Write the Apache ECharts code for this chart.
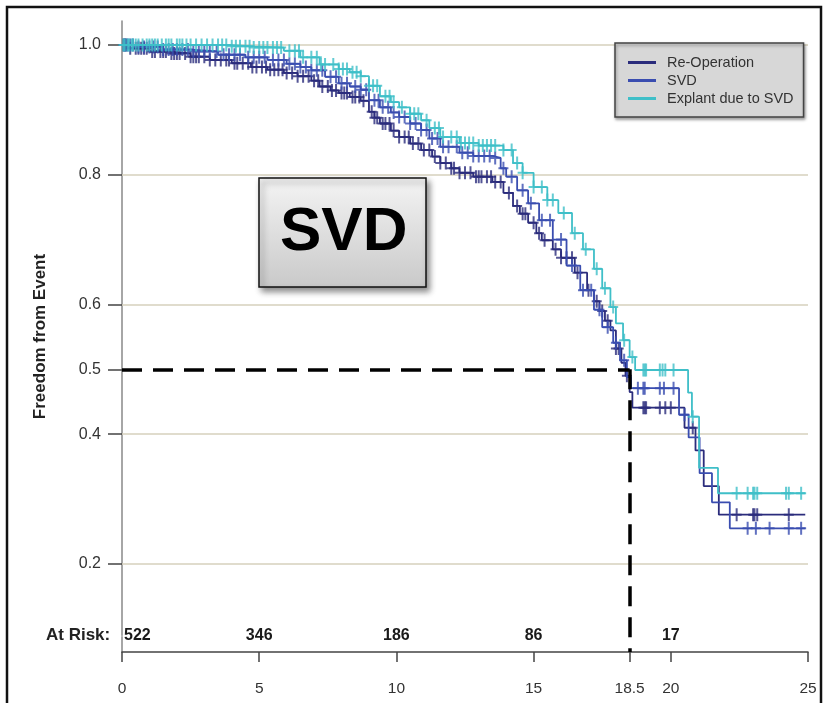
<!DOCTYPE html>
<html><head><meta charset="utf-8">
<script src="https://cdn.jsdelivr.net/npm/echarts@6/dist/echarts.min.js"></script>
<style>html,body{margin:0;padding:0;background:#fff}#chart{width:830px;height:703px}</style>
</head><body><div id="chart"></div>
<script>
// ---------- data ----------
const seriesNames = ['Re-Operation', 'SVD', 'Explant due to SVD'];
const xTickValues = [0, 5, 10, 15, 18.5, 20, 25];
const yTickValues = [0.2, 0.4, 0.5, 0.6, 0.8, 1.0];
const gridLineValues = [0.2, 0.4, 0.6, 0.8, 1.0];
const atRiskTimes = [0, 5, 10, 15, 20];
const atRiskCounts = [522, 346, 186, 86, 17];
const medianTime = 18.5;
const medianValue = 0.5;

// Kaplan-Meier steps [time, survival]
const reopSteps = [[0,1.0],[0.2,0.995],[1.0,0.99],[1.7,0.987],[2.5,0.982],[3.2,0.977],[4.0,0.972],[4.7,0.966],[5.3,0.962],[5.9,0.957],[6.4,0.952],[6.9,0.945],[7.2,0.936],[7.6,0.93],[7.9,0.926],[8.3,0.92],[8.7,0.914],[9.0,0.897],[9.2,0.888],[9.4,0.879],[9.8,0.868],[10.1,0.858],[10.5,0.848],[10.9,0.838],[11.3,0.828],[11.6,0.818],[12.0,0.81],[12.3,0.803],[12.8,0.797],[13.5,0.789],[13.9,0.772],[14.25,0.752],[14.5,0.74],[14.8,0.726],[15.1,0.71],[15.3,0.699],[15.7,0.685],[16.0,0.672],[16.5,0.649],[16.95,0.622],[17.2,0.605],[17.4,0.59],[17.6,0.575],[17.8,0.56],[18.0,0.532],[18.2,0.51],[18.35,0.49],[18.5,0.465],[18.6,0.441],[20.5,0.41],[20.9,0.375],[21.2,0.32],[21.75,0.276],[24.9,0.276]];
const svdSteps = [[0,1.0],[0.5,0.997],[1.5,0.993],[2.5,0.99],[3.5,0.985],[4.5,0.981],[5.3,0.977],[6.0,0.971],[6.5,0.966],[6.9,0.961],[7.4,0.951],[7.9,0.941],[8.3,0.936],[8.7,0.931],[9.0,0.915],[9.4,0.904],[9.8,0.896],[10.1,0.889],[10.5,0.879],[10.9,0.869],[11.2,0.856],[11.6,0.843],[12.3,0.834],[12.8,0.829],[13.5,0.826],[13.8,0.81],[14.0,0.797],[14.4,0.776],[14.8,0.756],[15.2,0.73],[15.7,0.7],[16.2,0.66],[16.7,0.622],[17.2,0.592],[17.5,0.565],[17.9,0.541],[18.15,0.514],[18.4,0.488],[18.55,0.471],[20.3,0.43],[20.65,0.395],[21.05,0.34],[21.5,0.295],[22.15,0.255],[24.9,0.255]];
const explantSteps = [[0,1.0],[3.9,0.998],[4.8,0.996],[5.9,0.991],[6.5,0.981],[7.2,0.97],[7.9,0.963],[8.3,0.958],[8.7,0.952],[9.0,0.937],[9.4,0.921],[9.8,0.912],[10.1,0.904],[10.5,0.894],[10.9,0.884],[11.2,0.872],[11.6,0.858],[12.3,0.849],[13.0,0.845],[13.9,0.838],[14.25,0.818],[14.6,0.803],[15.0,0.781],[15.5,0.761],[15.9,0.741],[16.4,0.71],[16.8,0.685],[17.2,0.655],[17.5,0.625],[17.8,0.596],[18.0,0.571],[18.26,0.545],[18.5,0.519],[18.7,0.499],[20.63,0.464],[20.77,0.427],[21.03,0.348],[21.72,0.309],[24.9,0.309]];

// censoring times
const reopCensor = [0.05,0.1,0.15,0.3,0.5,0.6,0.7,0.8,0.9,1.1,1.2,1.4,1.5,1.6,1.8,1.9,2.0,2.1,2.3,2.5,2.6,2.7,2.8,3.0,3.2,3.4,3.6,3.8,3.9,4.1,4.2,4.4,4.6,4.75,4.9,5.1,5.25,5.4,5.55,5.7,5.85,6.0,6.2,6.4,6.6,6.8,7.0,7.15,7.3,7.5,7.65,7.8,8.0,8.1,8.2,8.4,8.5,8.65,8.8,9.1,9.2,9.3,9.5,9.6,9.75,9.9,10.1,10.3,10.45,10.6,10.8,11.0,11.2,11.4,11.6,11.8,12.0,12.1,12.3,12.5,12.7,12.9,13.0,13.1,13.3,13.45,13.6,13.8,14.1,14.4,14.6,14.7,15.0,15.2,15.4,15.8,16.0,16.2,16.4,16.6,17.0,17.3,17.5,17.7,18.0,18.1,18.4,19.0,19.05,19.1,19.6,19.8,20.0,20.8,22.4,23.0,23.05,23.15,24.3];
const svdCensor = [0.1,0.2,0.3,0.4,0.6,0.8,1.0,1.15,1.3,1.5,1.7,1.85,2.0,2.2,2.4,2.6,2.8,3.0,3.2,3.45,3.7,3.9,4.1,4.3,4.6,4.8,5.0,5.2,5.5,5.7,5.9,6.1,6.3,6.5,6.7,6.9,7.1,7.3,7.6,7.8,8.0,8.2,8.5,8.7,8.9,9.2,9.35,9.5,9.7,9.9,10.1,10.3,10.5,10.7,10.9,11.1,11.3,11.5,11.7,11.9,12.2,12.4,12.6,12.8,13.0,13.2,13.4,13.6,13.9,14.2,14.6,14.9,15.3,15.6,16.0,16.4,16.8,17.1,17.4,17.7,18.0,18.3,18.8,19.0,19.05,19.6,19.75,20.1,20.5,22.8,23.1,23.6,24.3,24.75];
const explantCensor = [0.05,0.1,0.2,0.25,0.35,0.4,0.5,0.6,0.75,0.9,1.0,1.1,1.2,1.3,1.45,1.6,1.7,1.8,2.0,2.1,2.2,2.35,2.5,2.7,2.9,3.1,3.3,3.5,3.65,3.8,4.0,4.15,4.3,4.5,4.65,4.8,5.0,5.15,5.3,5.5,5.65,5.8,6.1,6.3,6.45,6.6,6.9,7.1,7.25,7.4,7.7,7.9,8.05,8.2,8.4,8.55,8.7,9.0,9.15,9.3,9.6,9.75,9.9,10.2,10.5,10.65,10.8,11.1,11.4,11.55,11.7,12.0,12.2,12.35,12.5,12.65,12.8,13.0,13.15,13.3,13.45,13.6,13.9,14.2,14.4,14.6,15.0,15.3,15.5,15.7,16.1,16.5,16.9,17.3,17.6,17.9,18.3,18.6,19.0,19.05,19.1,19.6,19.7,19.8,20.1,20.8,22.4,22.8,23.0,23.05,23.15,24.2,24.3,24.75];

// ---------- styling / layout ----------
const colors = ['#2b2c7c', '#3a4db0', '#3fbfc8'];
const FONT = "'Liberation Sans', Arial, sans-serif";
const yMin = 0.0643, yMax = 1.037;
const atRiskRowValue = 0.089;

function survAt(steps, t) {
  let v = steps[0][1];
  for (const [x, y] of steps) { if (x <= t) v = y; else break; }
  return v;
}
const stepsList = [reopSteps, svdSteps, explantSteps];
const censorList = [reopCensor, svdCensor, explantCensor];
const plusSymbol = 'path://M4,0H6V13H4ZM0,5.5H10V7.5H0Z';

const series = [];
stepsList.forEach((steps, i) => {
  const s = {
    name: seriesNames[i], type: 'line', step: 'end', data: steps,
    showSymbol: false, symbol: 'none', z: 3 + i,
    lineStyle: { color: colors[i], width: 1.8 }, itemStyle: { color: colors[i] }
  };
  if (i === 0) {
    s.markLine = {
      silent: true, symbol: 'none', label: { show: false }, z: 1,
      lineStyle: { color: '#d6d1bd', width: 1.5, type: 'solid' },
      data: gridLineValues.map(v => ({ yAxis: v }))
    };
  }
  series.push(s);
});
censorList.forEach((times, i) => {
  series.push({
    name: seriesNames[i] + ' censored', type: 'scatter', z: 3 + i,
    symbol: plusSymbol, symbolSize: [10, 13],
    itemStyle: { color: colors[i], opacity: 0.8 },
    data: times.map(t => [t, survAt(stepsList[i], t)])
  });
});
// median dashed reference lines
series.push({
  name: 'median', type: 'line', data: [], z: 10,
  markLine: {
    silent: true, symbol: 'none', label: { show: false },
    lineStyle: { color: '#000', width: 3.5, type: [20, 11] },
    data: [
      [{ coord: [0, medianValue] }, { coord: [medianTime, medianValue] }],
      [{ coord: [medianTime, medianValue] }, { coord: [medianTime, yMin] }]
    ]
  }
});
// at-risk numbers
series.push({
  name: 'atrisk', type: 'scatter', symbolSize: 1, z: 10,
  itemStyle: { color: '#ffffff', opacity: 1 },
  label: { show: true, position: 'inside', color: '#1a1a1a', opacity: 1, fontFamily: FONT, fontSize: 16, fontWeight: 'bold',
           formatter: p => String(atRiskCounts[p.dataIndex]) },
  data: atRiskTimes.map((t, k) => k === 0
     ? { value: [t, atRiskRowValue], label: { align: 'left', offset: [2, 0] } }
     : { value: [t, atRiskRowValue] })
});

const chart = echarts.init(document.getElementById('chart'), null, { renderer: 'canvas' });
chart.setOption({
  animation: false,
  backgroundColor: '#fff',
  grid: { left: 122, right: 22, top: 21, bottom: 51 },
  legend: {
    data: seriesNames, orient: 'vertical', left: 615, top: 43,
    icon: 'rect', itemWidth: 28, itemHeight: 3, itemGap: 3,
    padding: [12, 10, 11, 13],
    backgroundColor: '#d7d7d7', borderColor: '#444', borderWidth: 1.5,
    shadowColor: 'rgba(0,0,0,0.35)', shadowBlur: 3, shadowOffsetX: 1, shadowOffsetY: 2,
    textStyle: { color: '#333', fontFamily: FONT, fontSize: 14.5, padding: [0, 0, 0, 6] },
    selectedMode: false
  },
  xAxis: {
    type: 'value', min: 0, max: 25,
    axisLine: { show: true, lineStyle: { color: '#444', width: 1.5 } },
    axisTick: { show: true, length: 10, customValues: xTickValues, lineStyle: { color: '#444', width: 1.5 } },
    axisLabel: { customValues: xTickValues, margin: 29, color: '#333', fontFamily: FONT, fontSize: 15.5 },
    splitLine: { show: false }
  },
  yAxis: {
    type: 'value', min: yMin, max: yMax,
    name: 'Freedom from Event', nameLocation: 'middle', nameGap: 73,
    nameTextStyle: { color: '#222', fontFamily: FONT, fontSize: 17, fontWeight: 'bold' },
    axisLine: { show: true, lineStyle: { color: '#888', width: 1.5 } },
    axisTick: { show: true, length: 14, customValues: yTickValues, lineStyle: { color: '#444', width: 1.5 } },
    axisLabel: { customValues: yTickValues, margin: 21, color: '#333', fontFamily: FONT, fontSize: 16,
                 formatter: v => v.toFixed(1) },
    splitLine: { show: false }
  },
  graphic: [
    { type: 'rect', z: 100, silent: true,
      shape: { x: 7, y: 7, width: 814, height: 720 },
      style: { fill: 'none', stroke: '#111', lineWidth: 2.5 } },
    { type: 'rect', z: 100, silent: true,
      shape: { x: 259, y: 178, width: 167, height: 109 },
      style: {
        fill: new echarts.graphic.LinearGradient(0, 0, 0, 1, [{ offset: 0, color: '#f4f4f4' }, { offset: 1, color: '#c9c9c9' }]),
        stroke: '#111', lineWidth: 1.5,
        shadowBlur: 6, shadowOffsetX: 3, shadowOffsetY: 4, shadowColor: 'rgba(0,0,0,0.45)'
      } },
    { type: 'text', z: 101, silent: true, left: 280, top: 202,
      style: { text: 'SVD', fill: '#000', font: "bold 62px 'Liberation Sans', Arial, sans-serif" } },
    { type: 'text', z: 101, silent: true, left: 46, top: 627,
      style: { text: 'At Risk:', fill: '#222', font: "bold 17px 'Liberation Sans', Arial, sans-serif" } }
  ],
  series: series
});
</script></body></html>
